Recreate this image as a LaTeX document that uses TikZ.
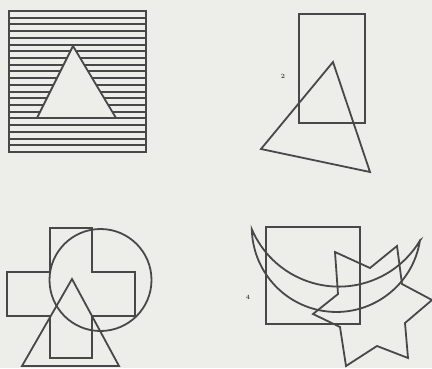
\documentclass[tikz,border=0pt]{standalone}
\usepackage{tikz}
\definecolor{paper}{RGB}{237,237,234}
\definecolor{ink}{RGB}{72,72,72}
\begin{document}
\begin{tikzpicture}[
    x=1pt, y=-1pt,
    outline/.style={draw=ink, line width=1.8pt, line join=miter},
    hatch/.style={draw=ink, line width=2pt},
    figno/.style={font=\fontsize{6.5}{6.5}\selectfont\bfseries, text=ink, inner sep=0pt}
]

\fill[paper] (0,0) rectangle (432,368);
\useasboundingbox (0,0) rectangle (432,368);

%% ── 1: šrafovaný štvorec s trojuholníkom ─────────────────────────
\coordinate (s1a) at (9,11);
\coordinate (s1b) at (146,152);
\foreach \k in {0,...,21}
    \draw[hatch] (9,{round(11+\k*141/21)}) -- (146,{round(11+\k*141/21)});
\draw[outline, line width=2pt] (s1a) rectangle (s1b);
\coordinate (t1a) at (73,46);
\coordinate (t1b) at (37,118);
\coordinate (t1c) at (116,118);
\filldraw[outline, fill=paper] (t1a) -- (t1b) -- (t1c) -- cycle;
\draw[hatch] (t1b) -- (t1c);

%% ── 2: obdĺžnik a trojuholník ────────────────────────────────────
\draw[outline] (299,14) rectangle (365,123);
\coordinate (t2a) at (333,62);
\coordinate (t2b) at (261,149);
\coordinate (t2c) at (370,172);
\draw[outline] (t2a) -- (t2b) -- (t2c) -- cycle;
\node[figno] (n2) at (283,76) {2};

%% ── 3: kríž, kruh a trojuholník ──────────────────────────────────
\draw[outline] (50,228) -- (92,228) -- (92,272) -- (135,272) -- (135,316)
    -- (92,316) -- (92,358) -- (50,358) -- (50,316) -- (7,316)
    -- (7,272) -- (50,272) -- cycle;
\coordinate (c3) at (100.5,280);
\draw[outline] (c3) circle[radius=51];
\coordinate (t3a) at (72,279);
\coordinate (t3b) at (22,366);
\coordinate (t3c) at (119,366);
\draw[outline] (t3a) -- (t3b) -- (t3c) -- cycle;

%% ── 4: štvorec, polmesiac a hviezda ──────────────────────────────
\draw[outline] (266,227) rectangle (360,324);
\draw[outline] (420,240.3)
    arc[start angle=8.8, end angle=178.7, radius=84.6]
    arc[start angle=156.8, end angle=30.6, radius=94.6] -- cycle;
\draw[outline] (335,252) -- (370,268) -- (397,246) -- (402,284)
    -- (432,300) -- (405,323) -- (408,358) -- (377,346)
    -- (346,366) -- (340,327) -- (313,314) -- (338,294) -- cycle;
\node[figno] (n4) at (248,297) {4};

\end{tikzpicture}
\end{document}
